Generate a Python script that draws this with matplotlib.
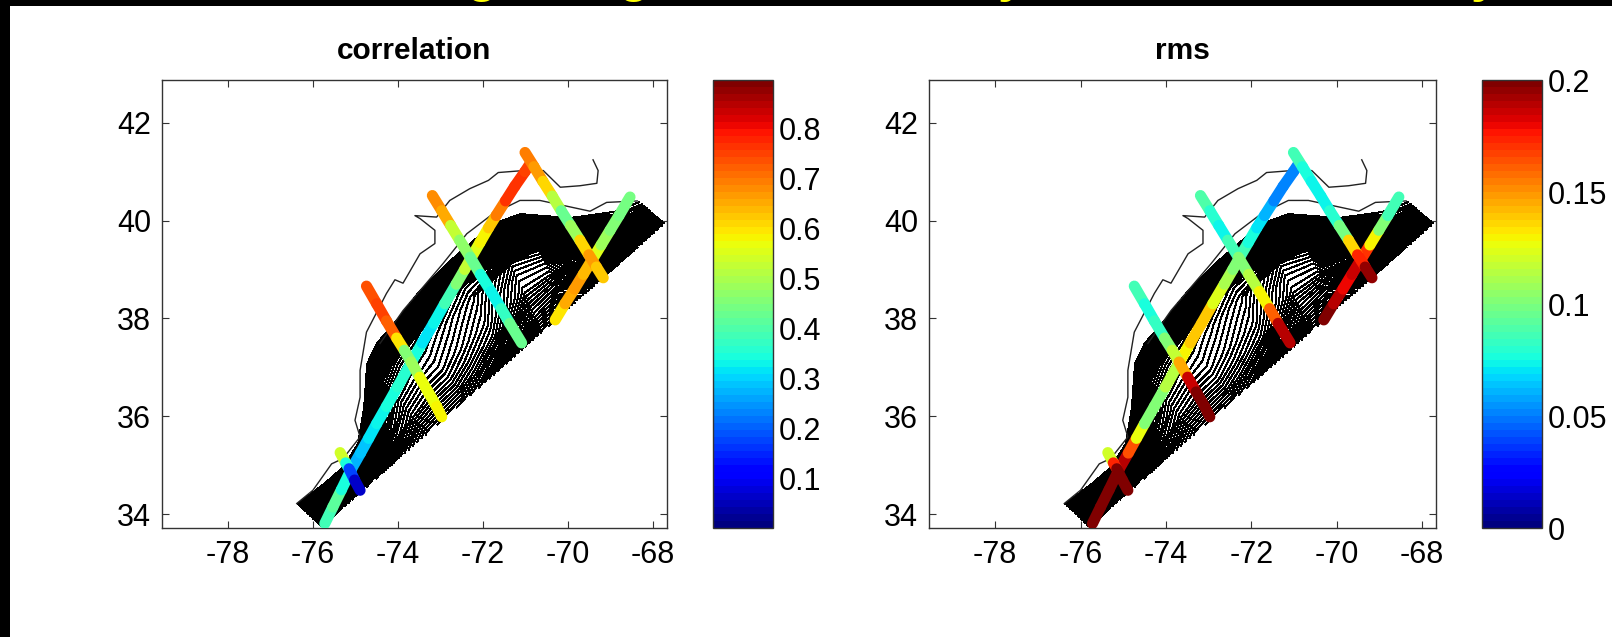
import numpy as np
import matplotlib
matplotlib.use('Agg')
import matplotlib.pyplot as plt
from matplotlib.collections import LineCollection
from matplotlib.cm import ScalarMappable
from matplotlib.colors import Normalize
from matplotlib.patches import Rectangle

plt.rcParams['font.family'] = ['Liberation Sans', 'DejaVu Sans']
plt.rcParams['axes.unicode_minus'] = False

W, H = 1612, 637

# altimeter tracks: lon, lat, correlation, rms at stations
a_lon = [-75.72, -75.53, -75.33, -75.09, -74.88, -74.69, -74.5, -74.27, -74.01, -73.68, -73.43, -73.16,
         -72.9, -72.63, -72.43, -72.27, -72.07, -71.87, -71.69, -71.47, -71.25, -71.01, -70.89]
a_lat = [33.81, 34.15, 34.5, 34.93, 35.25, 35.55, 35.85, 36.2, 36.6, 37.11, 37.5, 37.9,
         38.3, 38.7, 39.0, 39.25, 39.55, 39.85, 40.1, 40.4, 40.7, 41.0, 41.16]
a_cor = [.37, .41, .42, .28, .27, .30, .33, .33, .35, .36, .33, .31,
         .34, .42, .5, .55, .57, .59, .65, .74, .78, .76, .74]
a_rms = [.2, .2, .2, .2, .18, .15, .105, .1, .1, .125, .135, .145,
         .13, .115, .105, .095, .08, .075, .065, .055, .05, .05, .055]

b_lon = [-70.30, -70.07, -69.85, -69.64, -69.43, -69.22, -69.01, -68.8, -68.54]
b_lat = [37.97, 38.3, 38.6, 38.9, 39.2, 39.5, 39.8, 40.1, 40.48]
b_cor = [.57, .62, .67, .66, .62, .5, .47, .45, .42]
b_rms = [.2, .2, .18, .18, .19, .15, .11, .09, .08]

c_lon = [-71.01, -70.80, -70.59, -70.37, -70.16, -69.94, -69.72, -69.51, -69.33, -69.17]
c_lat = [41.39, 41.1, 40.8, 40.5, 40.2, 39.9, 39.6, 39.3, 39.05, 38.83]
c_cor = [.72, .68, .65, .58, .44, .42, .55, .66, .68, .57]
c_rms = [.09, .08, .075, .07, .075, .085, .11, .16, .19, .2]

d_lon = [-73.19, -72.97, -72.76, -72.55, -72.30, -72.06, -71.81, -71.57, -71.37, -71.09]
d_lat = [40.51, 40.2, 39.9, 39.6, 39.25, 38.9, 38.55, 38.2, 37.9, 37.5]
d_cor = [.68, .67, .62, .44, .5, .36, .32, .35, .38, .47]
d_rms = [.095, .085, .075, .075, .095, .11, .12, .14, .18, .2]

e_lon = [-74.74, -74.5, -74.27, -74.03, -73.85, -73.69, -73.49, -73.29, -73.09, -72.97]
e_lat = [38.66, 38.3, 37.95, 37.6, 37.35, 37.11, 36.8, 36.5, 36.2, 35.99]
e_cor = [.72, .74, .75, .68, .5, .4, .56, .57, .57, .6]
e_rms = [.09, .08, .075, .09, .115, .12, .17, .2, .2, .2]

f_lon = [-75.36, -75.23, -75.15, -75.02, -74.89]
f_lat = [35.26, 35.05, 34.93, 34.7, 34.49]
f_cor = [.65, .42, .27, .08, .05]
f_rms = [.09, .15, .2, .2, .2]

# thin isobaths on the shelf
iso1_lon = [-76.38, -76.0, -75.56, -75.29, -74.89, -75.01, -74.89, -74.89, -74.74, -74.27, -74.07, -73.88,
            -73.48, -73.13, -73.13, -73.48, -73.6, -73.09, -72.78, -72.31, -71.87, -71.64, -71.05, -70.58,
            -70.18, -69.72, -69.32, -69.29, -69.41]
iso1_lat = [34.22, 34.49, 35.03, 35.14, 35.58, 35.92, 36.39, 36.94, 37.72, 38.51, 38.79, 38.72,
            39.32, 39.53, 39.8, 40.04, 40.1, 40.07, 40.41, 40.65, 40.82, 40.98, 41.02, 41.02,
            40.68, 40.71, 40.76, 41.02, 41.24]
iso2_lon = [-74.42, -73.88, -72.94, -72.38, -71.76, -71.13, -70.66, -70.12, -69.48, -69.09, -68.37]
iso2_lat = [37.49, 38.16, 39.12, 39.73, 40.14, 40.41, 40.41, 40.31, 40.19, 40.37, 40.4]

# edges of the contoured domain, and depth in contour steps across it
nw_lon = [-76.38, -75.76, -75.3, -74.94, -74.8, -74.73, -74.5, -74.0, -73.55, -72.78, -71.76, -71.13, -69.95, -68.93, -68.35]
nw_lat = [34.22, 34.63, 34.96, 35.45, 36.2, 37.08, 37.5, 38.0, 38.5, 39.18, 39.94, 40.14, 40.06, 40.2, 40.41]
se_lon = [-75.8, -75.3, -74.85, -74.4, -73.9, -73.3, -72.85, -72.4, -72.0, -71.4, -70.6, -70.0, -69.2, -68.4, -67.72]
se_lat = [33.74, 34.12, 34.47, 34.81, 35.2, 35.66, 36.0, 36.35, 36.65, 37.11, 37.73, 38.19, 38.8, 39.42, 39.94]
depth = [
    [0, 2, 4, 6, 8, 10, 12, 14, 16],
    [0, 2, 4, 6, 9, 11, 13, 15, 17],
    [0, 4, 8, 12, 14, 16, 18, 20, 22],
    [0, 5, 10, 14, 16, 18, 20, 22, 24],
    [0, 8, 16, 20, 23, 26, 29, 32, 35],
    [0, 12, 20, 24, 27, 30, 33, 37, 41],
    [0, 12, 22, 26, 28, 31, 34, 38, 42],
    [0, 12, 24, 27, 29, 31, 34, 38, 43],
    [0, 14, 26, 29, 31, 33, 36, 40, 45],
    [0, 15, 30, 33, 35, 37, 40, 45, 51],
    [0, 15, 30, 42, 45, 47, 51, 55, 60],
    [0, 13, 26, 40, 44, 47, 52, 57, 62],
    [0, 9, 18, 27, 31, 35, 40, 45, 50],
    [0, 2, 4, 7, 10, 13, 16, 19, 22],
    [0, 1, 3, 5, 7, 9, 11, 13, 15],
]

xticks = [-78, -76, -74, -72, -70, -68]
yticks = [34, 36, 38, 40, 42]
cor_ticks = [.1, .2, .3, .4, .5, .6, .7, .8]
rms_ticks = [0, .05, .1, .15, .2]
rms_labels = ['0', '0.05', '0.1', '0.15', '0.2']

tracks_lon = [a_lon, b_lon, c_lon, d_lon, e_lon, f_lon]
tracks_lat = [a_lat, b_lat, c_lat, d_lat, e_lat, f_lat]
tracks_cor = [a_cor, b_cor, c_cor, d_cor, e_cor, f_cor]
tracks_rms = [a_rms, b_rms, c_rms, d_rms, e_rms, f_rms]

t = np.linspace(0, 1, len(depth[0]))
X = np.outer(nw_lon, 1 - t) + np.outer(se_lon, t)
Y = np.outer(nw_lat, 1 - t) + np.outer(se_lat, t)
Z = np.array(depth, dtype=float)

cmap = plt.get_cmap('jet', 64)


def px_axes(left, top, right, bottom):
    return fig.add_axes([left / W, 1 - bottom / H, (right - left) / W, (bottom - top) / H])


def draw_panel(left, right, cb_left, cb_right, title, values, norm, ticks, labels):
    ax = px_axes(left, 80, right, 527.5)
    ax.contour(X, Y, Z, levels=np.arange(0.5, 62, 1), colors='k', linewidths=0.72, antialiased=False)
    ax.plot(iso1_lon, iso1_lat, color='#222222', lw=1.0)
    ax.plot(iso2_lon, iso2_lat, color='#222222', lw=1.0)
    for lon, lat, val in zip(tracks_lon, tracks_lat, values):
        pts = np.column_stack([lon, lat])
        segs = np.stack([pts[:-1], pts[1:]], axis=1)
        lc = LineCollection(segs, cmap=cmap, norm=norm, linewidths=8, capstyle='round', zorder=3)
        lc.set_array((np.array(val[:-1]) + np.array(val[1:])) / 2)
        ax.add_collection(lc)
    ax.set_xlim(-79.55, -67.67)
    ax.set_ylim(33.73, 42.87)
    ax.set_xticks(xticks)
    ax.set_yticks(yticks)
    ax.tick_params(direction='in', top=True, right=True, length=5, width=0.8, labelsize=22, color='#333333', pad=8)
    ax.tick_params(axis='x', pad=9)
    ax.set_title(title, fontsize=21.5, fontweight='bold', pad=15)
    for sp in ax.spines.values():
        sp.set_color('#333333')
        sp.set_linewidth(1.0)

    cax = px_axes(cb_left, 80, cb_right, 528)
    cb = fig.colorbar(ScalarMappable(norm=norm, cmap=cmap), cax=cax, ticks=ticks)
    cb.ax.set_yticklabels(labels)
    cb.ax.tick_params(length=0, labelsize=22, pad=4)
    cb.outline.set_edgecolor('#333333')
    cb.outline.set_linewidth(1.0)


fig = plt.figure(figsize=(W / 100, H / 100), dpi=100, facecolor='white')

# black frame of the slide
fig.add_artist(Rectangle((0, 0), 10 / W, 1, transform=fig.transFigure, color='black', lw=0))
fig.add_artist(Rectangle((0, 1 - 5.7 / H), 1, 5.7 / H, transform=fig.transFigure, color='black', lw=0))

# the slide heading is cut off, only these descenders are left
for ch, x in zip(['g', 'g', 'y', 'y'], [482, 634, 1011, 1484]):
    fig.text(x / W, 1 + 8 / H, ch, color='yellow', fontsize=36, fontweight='bold', ha='center', va='baseline')

draw_panel(162, 667, 712.5, 773, 'correlation', tracks_cor, Normalize(0, 0.897), cor_ticks,
           ['%.1f' % v for v in cor_ticks])
draw_panel(929, 1436, 1481.5, 1542, 'rms', tracks_rms, Normalize(0, 0.2), rms_ticks, rms_labels)

fig.savefig('out.png', dpi=100)
